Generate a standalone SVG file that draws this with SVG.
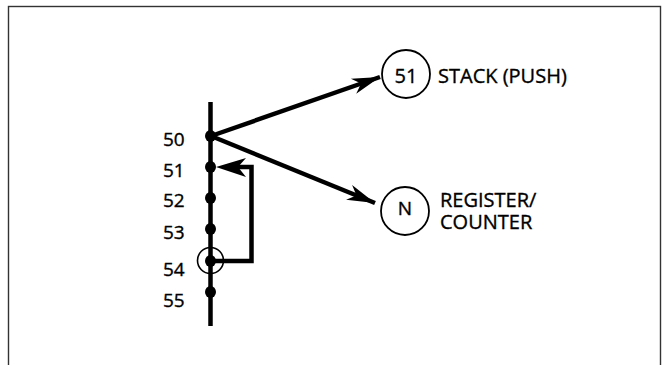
<svg xmlns="http://www.w3.org/2000/svg" width="664" height="365" viewBox="0 0 664 365">
<style>
.t{font-family:"Open Sans","Noto Sans","Liberation Sans",sans-serif;fill:#000;stroke:#000;stroke-width:0.35}
.lbl{font-size:19px}
.big{font-size:20px}
.ln{stroke:#000;stroke-width:4.5;fill:none}
.nd{fill:#fff;stroke:#000;stroke-width:1.8}
.dot{fill:#000}
</style>
<defs>
<marker id="ah" viewBox="-30 -10 32 20" refX="0" refY="0" markerWidth="32" markerHeight="20" markerUnits="userSpaceOnUse" orient="auto">
<path d="M0,0 L-28,-8 L-20,0 L-28,8 Z" fill="#000"/>
</marker>
</defs>
<rect x="8.5" y="6.5" width="652" height="370" fill="#fff" stroke="#333" stroke-width="1.4"/>
<g id="timeline">
<line class="ln" x1="210.5" y1="102" x2="210.5" y2="326"/>
<ellipse class="dot" cx="210.5" cy="136" rx="5.5" ry="6"/>
<ellipse class="dot" cx="210.5" cy="167" rx="5.5" ry="6"/>
<ellipse class="dot" cx="210.5" cy="198" rx="5.5" ry="6"/>
<ellipse class="dot" cx="210.5" cy="229" rx="5.5" ry="6"/>
<ellipse class="dot" cx="210.5" cy="261" rx="5.5" ry="6"/>
<ellipse class="dot" cx="210.5" cy="292" rx="5.5" ry="6"/>
<circle cx="210.5" cy="260.5" r="13" fill="none" stroke="#000" stroke-width="1.6"/>
<text class="t lbl" x="163" y="146">50</text>
<text class="t lbl" x="163" y="177">51</text>
<text class="t lbl" x="163" y="207">52</text>
<text class="t lbl" x="163" y="239">53</text>
<text class="t lbl" x="163" y="276">54</text>
<text class="t lbl" x="163" y="307">55</text>
</g>
<g id="stack">
<circle class="nd" cx="406" cy="74" r="24"/>
<text class="t big" x="406" y="83" text-anchor="middle">51</text>
<text class="t big" x="438" y="83">STACK (PUSH)</text>
</g>
<g id="register">
<circle class="nd" cx="405" cy="211" r="24"/>
<text class="t lbl" x="405" y="215" text-anchor="middle">N</text>
<text class="t big" font-size="19.5"><tspan x="440" y="207">REGISTER/</tspan><tspan x="440" y="229">COUNTER</tspan></text>
</g>
<g id="connectors">
<line class="ln" x1="211" y1="136" x2="380" y2="77" marker-end="url(#ah)"/>
<line class="ln" x1="211" y1="136" x2="375" y2="203" marker-end="url(#ah)"/>
<polyline class="ln" points="211,261 251.5,261 251.5,167 232,167"/>
<path d="M216,167 L246,158 L238,167 L246,177 Z" fill="#000"/>
</g>
</svg>
